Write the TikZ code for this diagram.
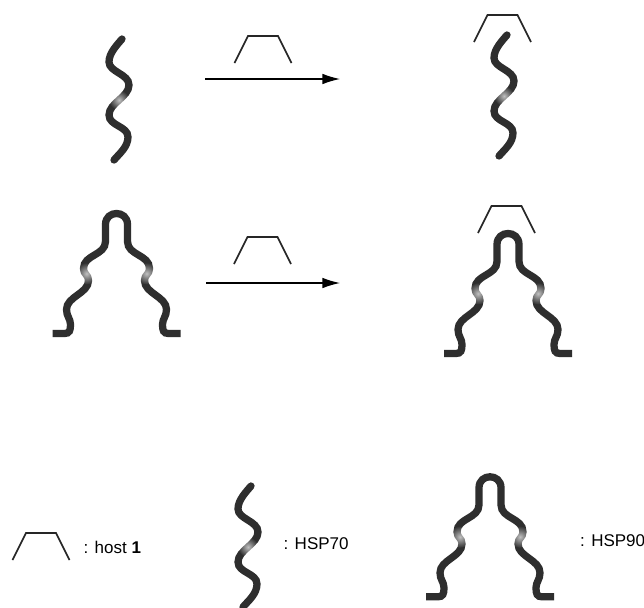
\documentclass[tikz,border=0pt]{standalone}
\usepackage{fontspec}
\setmainfont{Liberation Sans}
\usetikzlibrary{arrows.meta,fadings}

% soft light spot for the shaded bits of the chains
\tikzfading[name=softspot, inner color=transparent!0, outer color=transparent!100]

\begin{document}
\begin{tikzpicture}[x=0.03cm,y=-0.03cm,
	chain/.style={draw=black!82, line width=6.2pt},
	shine/.style={fill=white, fill opacity=0.7, path fading=softspot},
	hostline/.style={draw=black!85, line width=1.4pt, line join=miter},
	react/.style={draw=black, line width=1pt, -{Latex[length=15pt,width=9pt]}},
	lab/.style={anchor=west, inner sep=0pt, font=\fontsize{14.5}{17}\selectfont},
	host/.pic={
		\draw[hostline] (-28.5,0) -- (-15,-27) -- (15,-27) -- (28.5,0);
	},
	hspseventy/.pic={
		\draw[chain, line cap=round] (0,0) .. controls (-5,6) and (-13,14) .. (-13,23)
			.. controls (-13,33) and (7,35) .. (7,46)
			.. controls (7,58) and (-13,64) .. (-13,76)
			.. controls (-13,87) and (6,87) .. (6,98)
			.. controls (6,108) and (-3,115) .. (-8,121);
		\fill[shine] (-3,61) circle (10);
	},
	hspninety/.pic={
		\draw[chain] (-64,120) -- (-52,120) .. controls (-47,120) and (-46,117) .. (-46,111)
			.. controls (-46,105) and (-50,103) .. (-50,96)
			.. controls (-50,83) and (-28,80) .. (-28,67)
			.. controls (-28,61) and (-33,61) .. (-33,55)
			.. controls (-33,41) and (-11,42) .. (-11,28)
			-- (-11,11) .. controls (-11,-3.7) and (11,-3.7) .. (11,11)
			-- (11,28) .. controls (11,42) and (33,41) .. (33,55)
			.. controls (33,61) and (28,61) .. (28,67)
			.. controls (28,80) and (50,83) .. (50,96)
			.. controls (50,103) and (46,105) .. (46,111)
			.. controls (46,117) and (47,120) .. (52,120) -- (64,120);
		\fill[shine] (-30,60) circle (11);
		\fill[shine] (30,60) circle (11);
	}]
	\useasboundingbox[fill=white] (0,0) rectangle (644,607);

	% reaction with HSP70
	\pic at (122,39) {hspseventy};
	\pic at (507,35) {hspseventy};
	\coordinate (r1s) at (205,79);
	\coordinate (r1e) at (340,79);
	\draw[react] (r1s) -- (r1e);

	% reaction with HSP90
	\pic at (116.5,213.5) {hspninety};
	\pic at (508,233.5) {hspninety};
	\coordinate (r2s) at (206,283);
	\coordinate (r2e) at (340,283);
	\draw[react] (r2s) -- (r2e);

	% host molecules
	\foreach \x/\y in {263/63, 502.5/42, 262.5/264, 506.5/233, 41/560} {
		\pic at (\x,\y) {host};
	}

	% legend
	\pic at (251,486) {hspseventy};
	\pic at (490,476.8) {hspninety};
	\node (lblhost) at (83.5,547) [lab] {: host \textbf{1}};
	\node (lblseventy) at (283.5,543.5) [lab] {: HSP70};
	\node (lblninety) at (580,540.5) [lab] {: HSP90};
\end{tikzpicture}
\end{document}
